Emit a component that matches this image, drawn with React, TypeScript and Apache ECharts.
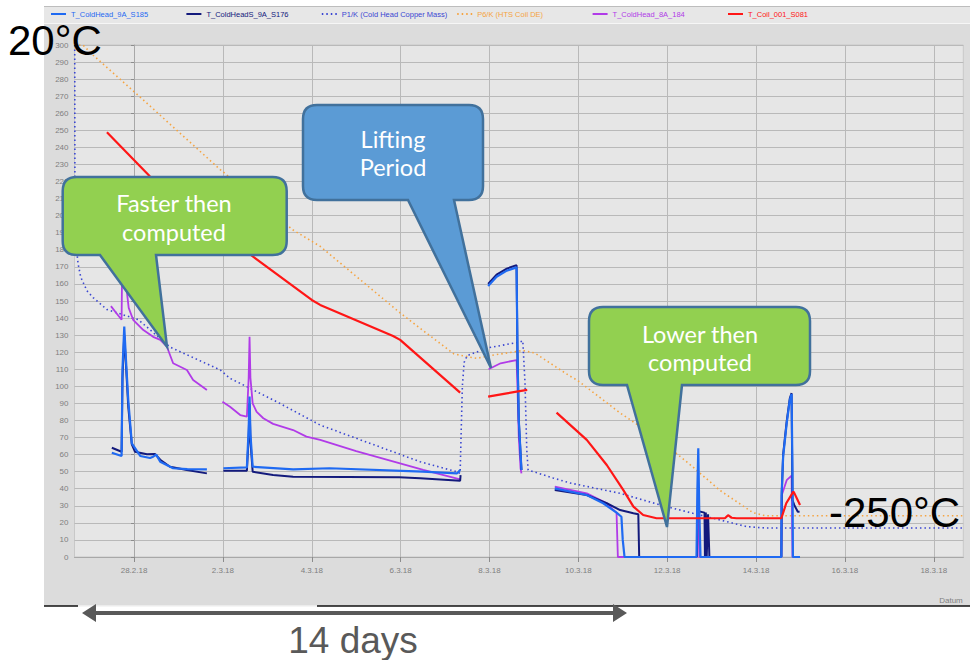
import React, { useEffect, useRef } from "react";
import * as echarts from "echarts";

// ---------- axis ticks (days after 28.2.18) ----------
const tickDays = [0, 2, 4, 6, 8, 10, 12, 14, 16, 18];
const tickLabels = ["28.2.18", "2.3.18", "4.3.18", "6.3.18", "8.3.18", "10.3.18", "12.3.18", "14.3.18", "16.3.18", "18.3.18"];
const xMin = -1.34;
const xMax = 18.665;

// ---------- series values: [day, K] ----------
const p6Coil = [
  [-1.34, 300], [-1.15, 300], [-0.92, 294], [0.2, 268], [1.94, 227], [3.58, 191.6], [4.19, 182], [5.99, 143],
  [6.44, 134], [7.2, 119], [7.5, 117.4], [7.72, 116.4], [8.01, 118], [8.75, 121], [9.02, 119.5], [9.81, 106],
  [9.97, 103.7], [10.94, 84.4], [11.84, 68.6], [12.58, 52.7], [13.19, 39], [13.93, 26], [14.2, 24.2], [18.665, 24.2],
];

const p1CopperMass = [
  [-1.335, 300], [-1.33, 200], [-1.3, 182], [-1.26, 172], [-1.2, 164], [-1.06, 156], [-0.92, 152], [-0.61, 145],
  [0.1, 139], [0.81, 123], [1.94, 109.6], [2.16, 104.7], [3.21, 91], [4.19, 77.3], [6.44, 55.8], [7.26, 50],
  [7.34, 49], [7.36, 70], [7.39, 100], [7.43, 114], [7.5, 118], [7.94, 122.4], [8.69, 126], [8.75, 126.7],
  [8.8, 102], [8.84, 62.7], [8.87, 51], [9.43, 46.3], [9.81, 43.4], [10.94, 37.3], [11.84, 30.5], [12.58, 25.6],
  [13.19, 21.7], [13.79, 17.8], [14.2, 17], [18.665, 17],
];

const coil001 = [
  [-0.61, 248.9], [0.36, 222.9], [2.68, 176], [4.0, 150.6], [4.19, 147.7], [5.83, 129.5], [5.99, 127.2], [7.34, 96.3],
  [7.6, null],
  [7.97, 94], [8.39, 95.9], [8.61, 96.9], [8.85, 97.9],
  [9.1, null],
  [9.51, 84.6], [10.19, 68.6], [10.64, 53.9], [11.01, 39.3], [11.24, 29.5], [11.46, 24.6], [11.76, 22.7], [13.3, 22.7],
  [13.37, 24.5], [13.45, 23], [13.56, 22.7], [14.57, 22.7], [14.68, 31.5], [14.84, 38.3], [14.87, 37], [14.99, 30.5],
];

const coldHead8A = [
  [-0.52, 147], [-0.4, 143], [-0.28, 139], [-0.27, 165], [-0.24, 172], [-0.2, 168], [-0.16, 155], [-0.12, 146],
  [-0.02, 139], [0.21, 133], [0.43, 129], [0.59, 127.2], [0.74, 123.2], [0.88, 113.5], [1.19, 109.6], [1.33, 103.7],
  [1.64, 97.9],
  [1.8, null],
  [1.99, 91], [2.16, 88], [2.39, 83.2], [2.54, 82.2], [2.58, 105], [2.6, 129], [2.62, 105], [2.67, 90], [2.76, 85],
  [2.91, 81.3], [3.13, 78], [3.58, 74.4], [3.88, 70.5], [4.19, 68.6], [5.0, 62], [6.51, 51], [7.34, 45.5],
  [7.6, null],
  [7.98, 110], [8.25, 113.5], [8.61, 115.4], [8.63, 100], [8.66, 70], [8.7, 52], [8.72, 49],
  [9.1, null],
  [9.47, 41.2], [10.19, 37.3], [10.64, 31.5], [10.79, 27.5], [10.86, 26], [10.89, 0], [12.68, 0], [12.69, 37],
  [12.71, 30], [12.73, 0], [14.57, 0], [14.58, 36.3], [14.69, 45], [14.8, 47.7], [14.82, 0], [14.95, 0],
];

const coldHead9A = [
  [-0.5, 61.1], [-0.28, 59.2], [-0.26, 110], [-0.22, 135], [-0.18, 115], [-0.13, 92], [-0.05, 66.6], [0.14, 59.2],
  [0.36, 58], [0.43, 58.8], [0.5, 60], [0.59, 55.8], [0.88, 52], [1.2, 51.5], [1.64, 51.4],
  [1.8, null],
  [2.01, 52], [2.54, 52.5], [2.58, 75], [2.6, 94], [2.62, 72], [2.67, 52.9], [3.58, 51.4], [4.4, 52], [6.5, 50],
  [7.27, 49], [7.34, 51],
  [7.6, null],
  [7.97, 158.8], [8.16, 164.2], [8.39, 167.8], [8.61, 169.7], [8.63, 120], [8.66, 80], [8.72, 51],
  [9.1, null],
  [9.47, 40.2], [10.19, 36.3], [10.56, 31.5], [10.86, 26], [10.97, 23.6], [11.0, 10], [11.04, 0], [12.66, 0],
  [12.68, 40], [12.7, 63.7], [12.72, 30], [12.75, 0], [14.57, 0], [14.575, 36], [14.61, 58.8], [14.69, 78.3],
  [14.76, 92], [14.8, 95.5], [14.82, 50], [14.83, 0], [14.99, 0],
];

const coldHeadS9A = [
  [-0.5, 64], [-0.28, 61.7], [-0.26, 105], [-0.22, 130], [-0.18, 112], [-0.13, 88], [-0.05, 66], [0.02, 61.7],
  [0.29, 60.2], [0.47, 60.4], [0.59, 57], [0.81, 52.9], [1.19, 51], [1.64, 49],
  [1.8, null],
  [2.01, 50.6], [2.54, 50.6], [2.58, 70], [2.6, 90], [2.62, 68], [2.67, 50], [3.13, 48], [3.58, 47], [5.97, 46.7],
  [6.44, 46.1], [7.34, 44.7], [7.35, 48],
  [7.6, null],
  [7.97, 160], [8.16, 165.5], [8.39, 169], [8.61, 171], [8.63, 120], [8.66, 80], [8.72, 51],
  [9.1, null],
  [9.47, 39.3], [10.19, 36.3], [10.64, 31.5], [10.94, 27.5], [11.24, 25.6], [11.35, 25], [11.37, 0],
  [12.0, null],
  [12.67, 0], [12.68, 27], [12.84, 26], [12.85, 0], [12.87, 26], [12.89, 0], [12.92, 25], [12.95, 0],
  [13.5, null],
  [14.57, 0], [14.58, 38], [14.61, 60], [14.69, 79.5], [14.76, 93], [14.8, 96], [14.82, 33.4], [14.86, 30.5],
  [14.94, 26.5], [14.98, 26.5],
];

// ---------- series / legend definitions ----------
const legendOrder = [
  "T_ColdHead_9A_S185",
  "T_ColdHeadS_9A_S176",
  "P1/K (Cold Head Copper Mass)",
  "P6/K (HTS Coil DE)",
  "T_ColdHead_8A_184",
  "T_Coil_001_S081",
];

const seriesDefs = [
  { name: "P6/K (HTS Coil DE)", data: p6Coil, color: "#f5a442", width: 1.6, dotted: true },
  { name: "P1/K (Cold Head Copper Mass)", data: p1CopperMass, color: "#3a46d2", width: 1.6, dotted: true },
  { name: "T_ColdHead_8A_184", data: coldHead8A, color: "#b13be8", width: 1.8, dotted: false },
  { name: "T_ColdHeadS_9A_S176", data: coldHeadS9A, color: "#131a7c", width: 2, dotted: false },
  { name: "T_ColdHead_9A_S185", data: coldHead9A, color: "#1f6af2", width: 2.2, dotted: false },
  { name: "T_Coil_001_S081", data: coil001, color: "#ff1616", width: 2.2, dotted: false },
];

// ---------- callout outlines ----------
const calloutPaths: Record<string, string> = {
  calloutFaster:
    "M76.7 177 H272.7 Q286.7 177 286.7 191 V241 Q286.7 255 272.7 255 H156 L167 346.7 L100 255 H76.7 Q62.7 255 62.7 241 V191 Q62.7 177 76.7 177 Z",
  calloutLifting:
    "M317 105 H469 Q483 105 483 119 V186 Q483 200 469 200 H454 L491 368 L408 200 H317 Q303 200 303 186 V119 Q303 105 317 105 Z",
  calloutLower:
    "M603 307 H796 Q810 307 810 321 V371 Q810 385 796 385 H682 L667 527 L627 385 H603 Q589 385 589 371 V321 Q589 307 603 307 Z",
};
Object.keys(calloutPaths).forEach((k) => {
  echarts.graphic.registerShape(k, echarts.graphic.extendPath(calloutPaths[k], {}));
});

const FONT = "Liberation Sans";

function txt(text: string, x: number, y: number, size: number, color: string, align = "center", family = FONT, weight: any = "normal", z = 101) {
  return {
    type: "text",
    x,
    y,
    z,
    style: {
      text,
      fill: color,
      fontSize: size,
      fontFamily: family,
      fontWeight: weight,
      align,
      verticalAlign: "middle",
      textAlign: align,
      textVerticalAlign: "middle",
    },
  };
}

function buildOption() {
  const series = seriesDefs.map((s) => ({
    type: "line",
    name: s.name,
    data: s.data,
    symbol: "none",
    showSymbol: false,
    connectNulls: false,
    lineStyle: { color: s.color, width: s.width, type: s.dotted ? [1.5, 3] : "solid" },
    itemStyle: { color: s.color },
    emphasis: { disabled: true },
  }));

  const colorOf = (n: string) => seriesDefs.find((s) => s.name === n)!.color;

  const legend = legendOrder.map((name, i) => ({
    data: [{ name, textStyle: { color: colorOf(name) } }],
    left: 50 + i * 135.4,
    top: 10,
    padding: 0,
    itemWidth: 15,
    itemHeight: 8,
    itemGap: 0,
    selectedMode: false,
    itemStyle: { opacity: 0 },
    textStyle: { fontSize: 7.5, fontFamily: FONT, color: colorOf(name), padding: [0, 0, 0, 0] },
  }));

  const calloutFont = 23.5;
  const graphicEls: any[] = [
    { type: "rect", z: -10, shape: { x: 44, y: 6, width: 926, height: 600 }, style: { fill: "#dcdcdc" } },
    { type: "rect", z: -9, shape: { x: 44, y: 7, width: 926, height: 16 }, style: { fill: "#e7e7e7" } },
    { type: "line", z: -8, shape: { x1: 44, y1: 6.5, x2: 970, y2: 6.5 }, style: { stroke: "#bdbdbd", lineWidth: 1 } },
    { type: "line", z: -8, shape: { x1: 44, y1: 23.5, x2: 970, y2: 23.5 }, style: { stroke: "#f6f6f6", lineWidth: 1 } },
    // bottom border of screenshot
    { type: "line", z: 5, shape: { x1: 44, y1: 606, x2: 78, y2: 606 }, style: { stroke: "#111", lineWidth: 1.5 } },
    { type: "line", z: 5, shape: { x1: 78, y1: 606, x2: 317, y2: 606 }, style: { stroke: "#f2f2f2", lineWidth: 1.5 } },
    { type: "line", z: 5, shape: { x1: 317, y1: 606, x2: 970, y2: 606 }, style: { stroke: "#111", lineWidth: 1.5 } },
    txt("Datum", 951, 600, 8, "#808080"),
    // callouts
    { type: "calloutFaster", x: 0, y: 0, z: 100, style: { fill: "#92d050", stroke: "#41719c", lineWidth: 2.5 } },
    txt("Faster then", 174, 203, calloutFont, "#ffffff", "center", "Lato"),
    txt("computed", 174, 232, calloutFont, "#ffffff", "center", "Lato"),
    { type: "calloutLifting", x: 0, y: 0, z: 100, style: { fill: "#5b9bd5", stroke: "#41719c", lineWidth: 2.5 } },
    txt("Lifting", 393, 139, calloutFont, "#ffffff", "center", "Lato"),
    txt("Period", 393, 167, calloutFont, "#ffffff", "center", "Lato"),
    { type: "calloutLower", x: 0, y: 0, z: 100, style: { fill: "#92d050", stroke: "#41719c", lineWidth: 2.5 } },
    txt("Lower then", 700, 334, calloutFont, "#ffffff", "center", "Lato"),
    txt("computed", 700, 362, calloutFont, "#ffffff", "center", "Lato"),
    // big annotations
    txt("20°C", 8, 40, 42, "#000000", "left"),
    txt("-250°C", 829, 512, 42, "#000000", "left"),
    {
      type: "polygon",
      z: 100,
      shape: {
        points: [
          [82, 613], [96, 604], [96, 611], [613, 611], [613, 604], [627, 613], [613, 622], [613, 615], [96, 615], [96, 622],
        ],
      },
      style: { fill: "#595959" },
    },
    txt("14 days", 353, 640, 37, "#595959"),
  ];

  return {
    animation: false,
    backgroundColor: "#ffffff",
    grid: {
      left: 74.5,
      top: 45,
      width: 888.8,
      height: 512,
      show: true,
      backgroundColor: "#e6e6e6",
      borderColor: "#c8c8c8",
      borderWidth: 1,
      containLabel: false,
      outerBoundsMode: "none",
    },
    xAxis: {
      type: "value",
      min: xMin,
      max: xMax,
      axisLine: { show: true, onZero: false, lineStyle: { color: "#a8a8a8", width: 1 } },
      axisTick: { show: true, customValues: tickDays, length: 5, lineStyle: { color: "#8c8c8c" } },
      axisLabel: {
        customValues: tickDays,
        formatter: (v: number) => {
          const i = tickDays.indexOf(Math.round(v));
          return i >= 0 ? tickLabels[i] : "";
        },
        color: "#7f7f7f",
        fontSize: 8,
        fontFamily: FONT,
        margin: 9,
      },
      splitLine: { show: true, lineStyle: { color: "#b9b9b9", width: 1 } },
    },
    yAxis: {
      type: "value",
      min: 0,
      max: 300,
      interval: 10,
      axisLine: { show: true, lineStyle: { color: "#a8a8a8" } },
      axisTick: { show: true, length: 3, lineStyle: { color: "#8c8c8c" } },
      axisLabel: { color: "#7f7f7f", fontSize: 8, fontFamily: FONT, margin: 6 },
      splitLine: { show: true, lineStyle: { color: "#b9b9b9", width: 1 } },
    },
    legend,
    series,
    graphic: { elements: graphicEls },
  };
}

export default function App() {
  const ref = useRef<HTMLDivElement>(null);
  useEffect(() => {
    document.body.style.margin = "0";
    const chart = echarts.init(ref.current!, null, { renderer: "svg", width: 970, height: 660 });
    chart.setOption(buildOption() as any);
    return () => chart.dispose();
  }, []);
  return <div ref={ref} style={{ width: 970, height: 660 }} />;
}
